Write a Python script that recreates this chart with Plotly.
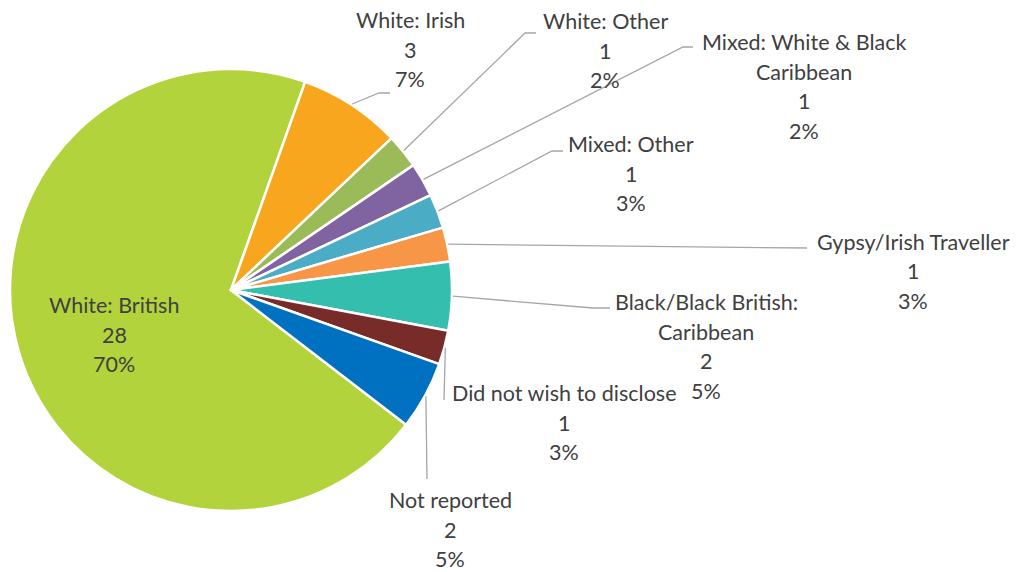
import math
import plotly.graph_objects as go

# ---- data ----
categories = ["White: British", "White: Irish", "White: Other",
              "Mixed: White & Black Caribbean", "Mixed: Other",
              "Gypsy/Irish Traveller", "Black/Black British: Caribbean",
              "Did not wish to disclose", "Not reported"]
display_labels = ["White: British", "White: Irish", "White: Other",
                  "Mixed: White & Black|Caribbean", "Mixed: Other",
                  "Gypsy/Irish Traveller", "Black/Black British:|Caribbean",
                  "Did not wish to disclose", "Not reported"]
counts = [28, 3, 1, 1, 1, 1, 2, 1, 2]
pct_labels = ["70%", "7%", "2%", "2%", "3%", "3%", "5%", "3%", "5%"]

# ---- styles / layout ----
colors = ["#B3D33D", "#F7A61E", "#9BBB59", "#8064A2", "#4BACC6",
          "#F79646", "#33BEAD", "#772C2A", "#0070C0"]
W, H = 1021, 572
CX, CY, R = 231, 290, 221
ROTATION = 127.6
TEXT_COLOR = "#404040"
FONT = "Lato"
FS = 21.5
LINE_H = 29.5
# label text centre x and first-line centre y (pixels)
label_pos = [(114, 305), (410, 20), (605, 21), (804, 42), (631, 144),
             (913, 242), (706, 302), (564, 393), (450, 500)]
# leader line bends / ends (pixels); None for the inside label
leader_pts = [None,
              [(379, 93), (390, 93)],
              [(525, 33), (536, 33)],
              [(683, 47), (693, 47)],
              [(552, 151), (563, 151)],
              [(807, 248)],
              [(593, 308), (610, 308)],
              [(444, 400)],
              [(427, 479)]]

def px(x):
    return x / W

def py(y):
    return 1 - y / H

fig = go.Figure(go.Pie(
    labels=categories, values=counts, sort=False, direction="clockwise",
    rotation=ROTATION, textinfo="none", hoverinfo="label+value+percent",
    marker=dict(colors=colors, line=dict(color="white", width=2.5)),
    domain=dict(x=[px(CX - R), px(CX + R)], y=[py(CY + R), py(CY - R)]),
    showlegend=False,
))

annotations = []
shapes = []
total = sum(counts)
cum = 0.0
for i, (lab, c, p) in enumerate(zip(display_labels, counts, pct_labels)):
    mid = ROTATION + (cum + c / 2) / total * 360
    cum += c
    lines = lab.split("|") + [str(c), p]
    lx, ly = label_pos[i]
    for k, t in enumerate(lines):
        annotations.append(dict(
            x=px(lx), y=py(ly + k * LINE_H), xref="paper", yref="paper",
            text=t, showarrow=False, xanchor="center", yanchor="middle",
            font=dict(family=FONT, size=FS, color=TEXT_COLOR)))
    if leader_pts[i]:
        a = math.radians(mid)
        sx = CX + (R + 1) * math.sin(a)
        sy = CY - (R + 1) * math.cos(a)
        pts = [(sx, sy)] + leader_pts[i]
        path = "M " + " L ".join(f"{px(x):.5f},{py(y):.5f}" for x, y in pts)
        shapes.append(dict(type="path", path=path, xref="paper", yref="paper",
                           line=dict(color="#A6A6A6", width=1.3)))

fig.update_layout(
    width=W, height=H, margin=dict(l=0, r=0, t=0, b=0),
    paper_bgcolor="white", plot_bgcolor="white",
    annotations=annotations, shapes=shapes,
)
fig.write_html("out.html")
